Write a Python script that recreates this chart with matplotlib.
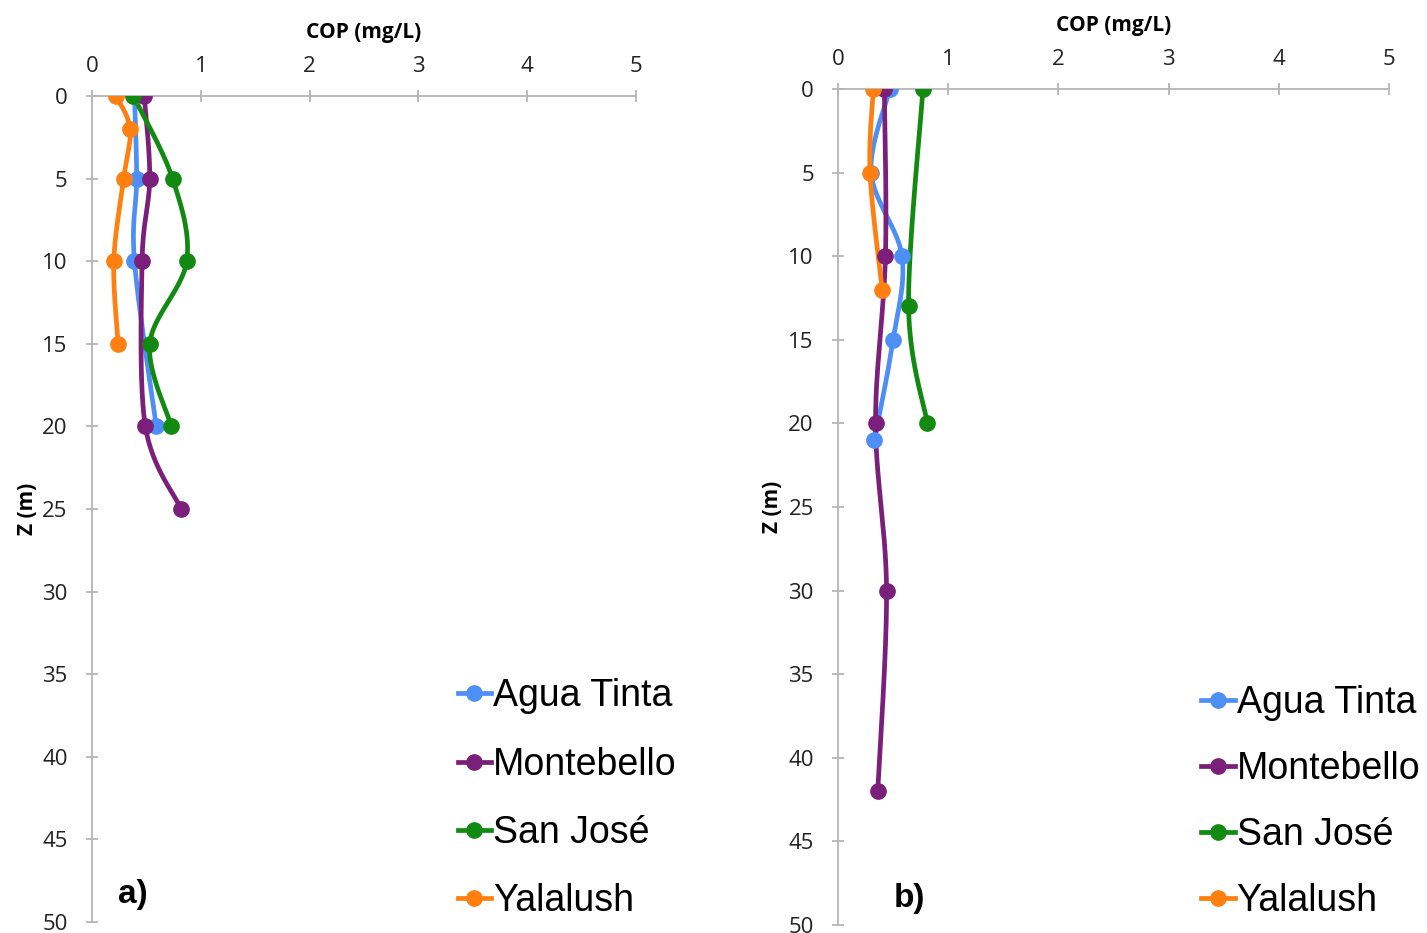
import numpy as np
import matplotlib
matplotlib.use('Agg')
import matplotlib.pyplot as plt
from matplotlib.lines import Line2D

# COP profiles per lake, depth z (m) vs COP (mg/L)
sites = ['Agua Tinta', 'Montebello', 'San José', 'Yalalush']
colors = ['#4d8ff5', '#7a1f7a', '#128a12', '#ff7f10']

# panel a)
a_depth = {
    'Agua Tinta': [0, 5, 10, 20],
    'Montebello': [0, 5, 10, 20, 25],
    'San José': [0, 5, 10, 15, 20],
    'Yalalush': [0, 2, 5, 10, 15],
}
a_cop = {
    'Agua Tinta': [0.39, 0.41, 0.39, 0.59],
    'Montebello': [0.48, 0.53, 0.46, 0.49, 0.82],
    'San José': [0.38, 0.74, 0.87, 0.53, 0.73],
    'Yalalush': [0.22, 0.35, 0.29, 0.20, 0.24],
}

# panel b)
b_depth = {
    'Agua Tinta': [0, 5, 10, 15, 21],
    'Montebello': [0, 10, 20, 30, 42],
    'San José': [0, 13, 20],
    'Yalalush': [0, 5, 12],
}
b_cop = {
    'Agua Tinta': [0.47, 0.30, 0.58, 0.50, 0.33],
    'Montebello': [0.42, 0.43, 0.34, 0.44, 0.36],
    'San José': [0.77, 0.64, 0.81],
    'Yalalush': [0.32, 0.29, 0.40],
}

x_ticks = [0, 1, 2, 3, 4, 5]
z_ticks = list(range(0, 51, 5))


def smooth(x, y, n=40):
    # excel-like smoothed line (catmull-rom bezier segments)
    p = np.column_stack([x, y]).astype(float)
    if len(p) < 3:
        return p[:, 0], p[:, 1]
    pts = np.vstack([p[0], p, p[-1]])
    out = []
    t = np.linspace(0, 1, n)[:, None]
    for i in range(1, len(pts) - 2):
        p0, p1, p2, p3 = pts[i - 1], pts[i], pts[i + 1], pts[i + 2]
        c1 = p1 + (p2 - p0) / 6
        c2 = p2 - (p3 - p1) / 6
        seg = ((1 - t) ** 3) * p1 + 3 * ((1 - t) ** 2) * t * c1 + 3 * (1 - t) * t ** 2 * c2 + t ** 3 * p2
        out.append(seg if i == 1 else seg[1:])
    out = np.vstack(out)
    return out[:, 0], out[:, 1]


def draw_panel(ax, depth, cop, letter, legend_anchor, spacing, letter_pos):
    for name, col in zip(sites, colors):
        xs, ys = smooth(cop[name], depth[name])
        ax.plot(xs, ys, color=col, lw=3.4, solid_capstyle='round', zorder=3)
        ax.plot(cop[name], depth[name], 'o', color=col, ms=11, zorder=4)

    ax.set_xlim(0, 5)
    ax.set_ylim(50, 0)
    ax.xaxis.tick_top()
    ax.xaxis.set_label_position('top')
    ax.set_xticks(x_ticks)
    ax.set_yticks(z_ticks)
    for s in ['right', 'bottom']:
        ax.spines[s].set_visible(False)
    for s in ['left', 'top']:
        ax.spines[s].set_color('#b5b5b5')
        ax.spines[s].set_linewidth(1.3)
    ax.tick_params(direction='inout', length=9, width=1.3, color='#b5b5b5',
                   labelsize=16, labelcolor='#222222')
    ax.tick_params(axis='y', pad=13)
    ax.tick_params(axis='x', pad=9)
    for lab in ax.get_xticklabels() + ax.get_yticklabels():
        lab.set_fontfamily('Open Sans')
    ax.set_xlabel('COP (mg/L)', fontsize=15, fontweight='bold', labelpad=13,
                  fontfamily='Open Sans')
    ax.set_ylabel('Z (m)', fontsize=15, fontweight='bold',
                  fontfamily='Open Sans')
    ax.yaxis.set_label_coords(-0.10, 0.5)

    handles = [Line2D([], [], color=c, lw=3.4, marker='o', ms=11) for c in colors]
    ax.legend(handles, sites, loc='upper left', bbox_to_anchor=legend_anchor,
              bbox_transform=ax.figure.transFigure, frameon=False,
              handlelength=0.9, handletextpad=0.05, labelspacing=spacing,
              prop={'family': 'Liberation Sans', 'size': 27})

    ax.figure.text(letter_pos[0], letter_pos[1], letter, fontsize=24,
                   fontweight='bold', fontfamily='Liberation Sans',
                   ha='left', va='center')


fig = plt.figure(figsize=(14.27, 9.33), dpi=100)
ax_a = fig.add_axes([0.0645, 0.0118, 0.3812, 0.8853])
ax_b = fig.add_axes([0.5873, 0.0086, 0.3861, 0.896])

draw_panel(ax_a, a_depth, a_cop, 'a)', (0.297, 0.309), 0.86, (0.083, 0.041))
draw_panel(ax_b, b_depth, b_cop, 'b)', (0.818, 0.302), 0.80, (0.626, 0.037))

fig.savefig('out.png', dpi=100)
